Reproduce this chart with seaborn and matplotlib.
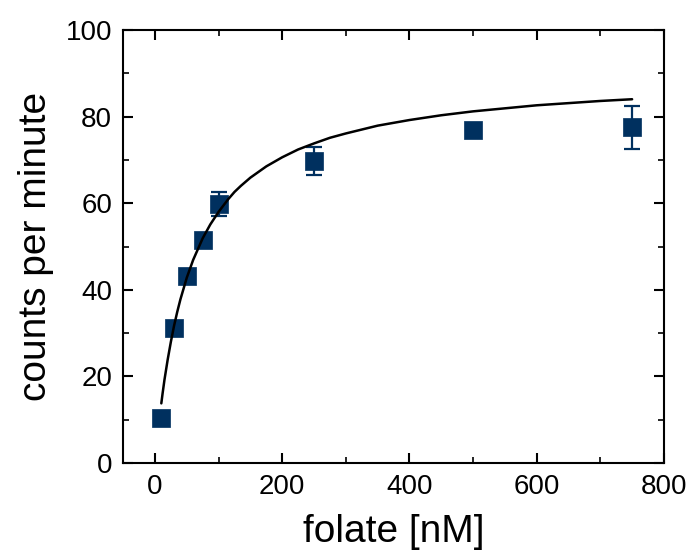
import numpy as np
import pandas as pd
import matplotlib
matplotlib.use("Agg")
import matplotlib.pyplot as plt
import seaborn as sns
from matplotlib.ticker import MultipleLocator

# measured data
folate_nM = [10, 30, 50, 75, 100, 250, 500, 750]
cpm = [10.5, 31.2, 43.2, 51.6, 59.8, 69.8, 76.8, 77.5]
cpm_err = [1.0, 1.0, 1.0, 1.0, 2.8, 3.2, 1.0, 5.0]

# fitted curve
fit_x = [10, 12, 15, 20, 25, 30, 35, 40, 50, 60, 75, 87, 100, 115, 125, 135, 150, 175,
         200, 225, 250, 275, 300, 350, 400, 450, 500, 550, 600, 700, 750]
fit_y = [13.8, 16.1, 19.3, 23.9, 28.0, 31.7, 34.9, 37.8, 42.8, 46.9, 51.9, 55.1, 58.0,
         60.9, 62.6, 64.0, 65.9, 68.5, 70.6, 72.4, 73.8, 75.1, 76.1, 77.9, 79.2, 80.3,
         81.2, 81.9, 82.6, 83.6, 84.0]

sns.set_theme(style="ticks")
plt.rcParams['font.family'] = ['Liberation Sans', 'DejaVu Sans']

fig = plt.figure(figsize=(6.88, 5.54), dpi=100)
ax = fig.add_axes([0.179, 0.164, 0.786, 0.782])

color = "#00305F"
df = pd.DataFrame({"x": folate_nM, "y": cpm, "e": cpm_err})
fit = pd.DataFrame({"x": fit_x, "y": fit_y})

ax.errorbar(df["x"], df["y"], yerr=df["e"], fmt="none", ecolor=color,
            elinewidth=1.6, capsize=5.5, capthick=1.6, zorder=2)
sns.scatterplot(data=df, x="x", y="y", marker="s", s=165, color=color,
                edgecolor=color, linewidth=0.5, ax=ax, zorder=3)
sns.lineplot(data=fit, x="x", y="y", color="black", linewidth=1.8, ax=ax, zorder=4)

ax.set_xlim(-50, 800)
ax.set_ylim(0, 100)
ax.xaxis.set_major_locator(MultipleLocator(200))
ax.xaxis.set_minor_locator(MultipleLocator(100))
ax.yaxis.set_major_locator(MultipleLocator(20))
ax.yaxis.set_minor_locator(MultipleLocator(10))

for s in ax.spines.values():
    s.set_visible(True)
    s.set_linewidth(1.5)
    s.set_color("black")

ax.tick_params(which="both", direction="in", top=True, right=True, colors="black",
               labelcolor="black")
ax.tick_params(which="major", length=7, width=1.5, labelsize=20, pad=8)
ax.tick_params(which="minor", length=4, width=1.2)

ax.set_xlabel("folate [nM]", fontsize=28, labelpad=10, color="black")
ax.set_ylabel("counts per minute", fontsize=28, labelpad=8, color="black")

fig.savefig("out.png", dpi=100)
